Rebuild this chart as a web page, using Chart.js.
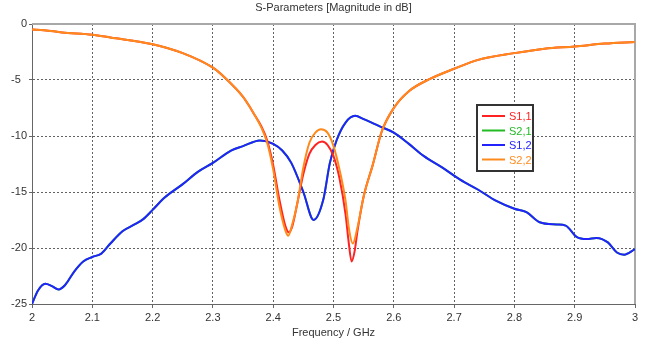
<!DOCTYPE html>
<html>
<head>
<meta charset="utf-8">
<script src="https://cdn.jsdelivr.net/npm/chart.js@4.4.1/dist/chart.umd.min.js"></script>
<style>
html, body { margin: 0; padding: 0; background: #fff; }
#wrap { width: 652px; height: 346px; position: relative; }
</style>
</head>
<body>
<div id="wrap"><canvas id="sparams"></canvas></div>
<script>
// tick positions and labels
var xTickValues = [2, 2.1, 2.2, 2.3, 2.4, 2.5, 2.6, 2.7, 2.8, 2.9, 3];
var xTickLabels = ["2", "2.1", "2.2", "2.3", "2.4", "2.5", "2.6", "2.7", "2.8", "2.9", "3"];
var yTickValues = [-25, -20, -15, -10, -5, 0];
var yTickLabels = ["-25", "-20", "-15", "-10", "-5  ", "0"];

var seriesNames = ["S1,1", "S2,1", "S1,2", "S2,2"];
var seriesColors = ["#ff2222", "#22bb22", "#2222ff", "#ff8a1c"];

// S1,1
var freqS11 = [2.0, 2.02, 2.05, 2.1, 2.13, 2.2, 2.25, 2.3, 2.32, 2.35, 2.36, 2.37, 2.38, 2.39, 2.4, 2.41, 2.42, 2.426, 2.432, 2.44, 2.45, 2.46, 2.47, 2.481, 2.49, 2.5, 2.51, 2.52, 2.525, 2.53, 2.535, 2.54, 2.55, 2.565, 2.58, 2.6, 2.625, 2.66, 2.7, 2.74, 2.8, 2.85, 2.9, 2.95, 3.0];
var magS11 = [-0.5, -0.55, -0.75, -0.95, -1.2, -1.8, -2.6, -3.9, -4.8, -6.5, -7.3, -8.2, -9.1, -10.4, -12.6, -15.6, -18.0, -18.6, -18.0, -16.0, -13.4, -11.6, -10.8, -10.5, -10.8, -11.8, -13.8, -17.0, -19.4, -21.2, -20.3, -18.4, -15.4, -12.6, -9.6, -7.5, -6.0, -4.9, -4.0, -3.2, -2.6, -2.2, -2.0, -1.75, -1.6];

// S1,2 (S2,1 is the same, reciprocal)
var freqS12 = [2.0, 2.01, 2.022, 2.033, 2.044, 2.055, 2.07, 2.085, 2.1, 2.115, 2.13, 2.15, 2.17, 2.185, 2.2, 2.22, 2.25, 2.275, 2.3, 2.33, 2.35, 2.378, 2.4, 2.415, 2.43, 2.45, 2.467, 2.483, 2.494, 2.505, 2.52, 2.536, 2.55, 2.575, 2.6, 2.625, 2.65, 2.68, 2.71, 2.74, 2.77, 2.8, 2.82, 2.842, 2.87, 2.885, 2.903, 2.92, 2.936, 2.955, 2.97, 2.982, 3.0];
var magS12 = [-25, -23.8, -23.2, -23.4, -23.7, -23.3, -22.1, -21.2, -20.8, -20.5, -19.6, -18.5, -17.9, -17.4, -16.6, -15.5, -14.3, -13.2, -12.4, -11.3, -10.9, -10.4, -10.7, -11.3, -12.4, -15.0, -17.5, -15.7, -12.4, -10.4, -8.8, -8.2, -8.5, -9.1, -9.7, -10.7, -11.8, -12.8, -13.9, -14.8, -15.8, -16.5, -16.8, -17.7, -17.9, -18.0, -19.0, -19.2, -19.1, -19.5, -20.4, -20.6, -20.1];

// S2,2
var freqS22 = [2.0, 2.02, 2.05, 2.1, 2.13, 2.2, 2.25, 2.3, 2.32, 2.35, 2.36, 2.37, 2.38, 2.39, 2.4, 2.41, 2.42, 2.425, 2.43, 2.44, 2.45, 2.46, 2.47, 2.479, 2.49, 2.5, 2.51, 2.52, 2.526, 2.532, 2.54, 2.55, 2.565, 2.58, 2.6, 2.625, 2.66, 2.7, 2.74, 2.8, 2.85, 2.9, 2.95, 3.0];
var magS22 = [-0.5, -0.55, -0.75, -0.95, -1.2, -1.8, -2.6, -3.9, -4.8, -6.5, -7.3, -8.2, -9.2, -10.6, -13.0, -16.2, -18.4, -18.9, -18.2, -16.0, -12.8, -10.6, -9.7, -9.4, -9.7, -10.9, -13.0, -15.8, -18.4, -19.6, -18.1, -15.4, -12.6, -9.6, -7.5, -6.0, -4.9, -4.0, -3.2, -2.6, -2.2, -2.0, -1.75, -1.6];

function toPoints(xs, ys) {
    return xs.map(function (x, i) { return {x: x, y: ys[i]}; });
}

var FONT = "'Liberation Sans', Arial, sans-serif";
var TEXT = "#333";

function line(i, xs, ys, order) {
    return {
        label: seriesNames[i],
        data: toPoints(xs, ys),
        borderColor: seriesColors[i],
        backgroundColor: seriesColors[i],
        borderWidth: 2,
        pointRadius: 0,
        cubicInterpolationMode: 'monotone',
        fill: false,
        order: order
    };
}

// frame on top/right and the legend box inside the plot
var framePlugin = {
    id: 'frame',
    beforeDatasetsDraw: function (chart) {
        var a = chart.chartArea, c = chart.ctx;
        c.save();
        c.strokeStyle = '#a8a8a8';
        c.lineWidth = 2;
        c.beginPath();
        c.moveTo(a.left, a.top);
        c.lineTo(a.right, a.top);
        c.lineTo(a.right, a.bottom);
        c.stroke();
        c.restore();
    },
    afterDatasetsDraw: function (chart) {
        var c = chart.ctx;
        var bx = 477, by = 105, bw = 56, bh = 66;
        c.save();
        c.fillStyle = '#fff';
        c.fillRect(bx, by, bw, bh);
        c.strokeStyle = '#333';
        c.lineWidth = 2;
        c.strokeRect(bx, by, bw, bh);
        c.font = '11px ' + FONT;
        c.textBaseline = 'middle';
        for (var i = 0; i < seriesNames.length; i++) {
            var y = by + 11 + i * 14.5;
            c.strokeStyle = seriesColors[i];
            c.lineWidth = 2;
            c.beginPath();
            c.moveTo(bx + 5, y);
            c.lineTo(bx + 28, y);
            c.stroke();
            c.fillStyle = seriesColors[i];
            c.fillText(seriesNames[i], bx + 32, y + 1);
        }
        c.restore();
    }
};

var ctx = document.getElementById("sparams").getContext('2d');
var chart = new Chart(ctx, {
    type: 'line',
    data: {
        datasets: [
            line(0, freqS11, magS11, 1),
            line(1, freqS12, magS12, 3),
            line(2, freqS12, magS12, 2),
            line(3, freqS22, magS22, 0)
        ]
    },
    options: {
        responsive: true,
        maintainAspectRatio: false,
        animation: false,
        layout: { padding: { left: 0, right: 17, top: 0, bottom: 0 } },
        plugins: {
            legend: { display: false },
            tooltip: { enabled: false },
            title: {
                display: true,
                fullSize: false,
                text: 'S-Parameters [Magnitude in dB]',
                color: TEXT,
                font: { family: FONT, size: 11, weight: 'normal' },
                padding: { top: 1, bottom: 9.8 }
            }
        },
        scales: {
            x: {
                type: 'linear',
                min: 2,
                max: 3,
                afterBuildTicks: function (s) { s.ticks = xTickValues.map(function (v) { return {value: v}; }); },
                afterFit: function (s) { s.height = 42; },
                ticks: {
                    autoSkip: false,
                    maxRotation: 0,
                    padding: 3,
                    color: TEXT,
                    font: { family: FONT, size: 11 },
                    callback: function (v, i) { return xTickLabels[i]; }
                },
                grid: {
                    color: function (c) { return (c.tick && (c.tick.value === 2 || c.tick.value === 3)) ? 'rgba(0,0,0,0)' : 'rgba(70,70,70,0.85)'; },
                    tickColor: '#666',
                    tickLength: 4
                },
                border: { color: '#666', width: 1, dash: [2, 2] },
                title: {
                    display: true,
                    text: 'Frequency / GHz',
                    color: TEXT,
                    font: { family: FONT, size: 11 },
                    padding: { top: 0, bottom: 6 }
                }
            },
            y: {
                min: -25,
                max: 0,
                afterBuildTicks: function (s) { s.ticks = yTickValues.map(function (v) { return {value: v}; }); },
                afterFit: function (s) { s.width = 32; },
                ticks: {
                    padding: 2,
                    color: TEXT,
                    font: { family: FONT, size: 11 },
                    callback: function (v, i) { return yTickLabels[i]; }
                },
                grid: {
                    color: function (c) { return (c.tick && (c.tick.value === 0 || c.tick.value === -25)) ? 'rgba(0,0,0,0)' : 'rgba(70,70,70,0.85)'; },
                    tickColor: '#666',
                    tickLength: 3
                },
                border: { color: '#666', width: 1, dash: [2, 2] }
            }
        }
    },
    plugins: [framePlugin]
});
</script>
</body>
</html>
